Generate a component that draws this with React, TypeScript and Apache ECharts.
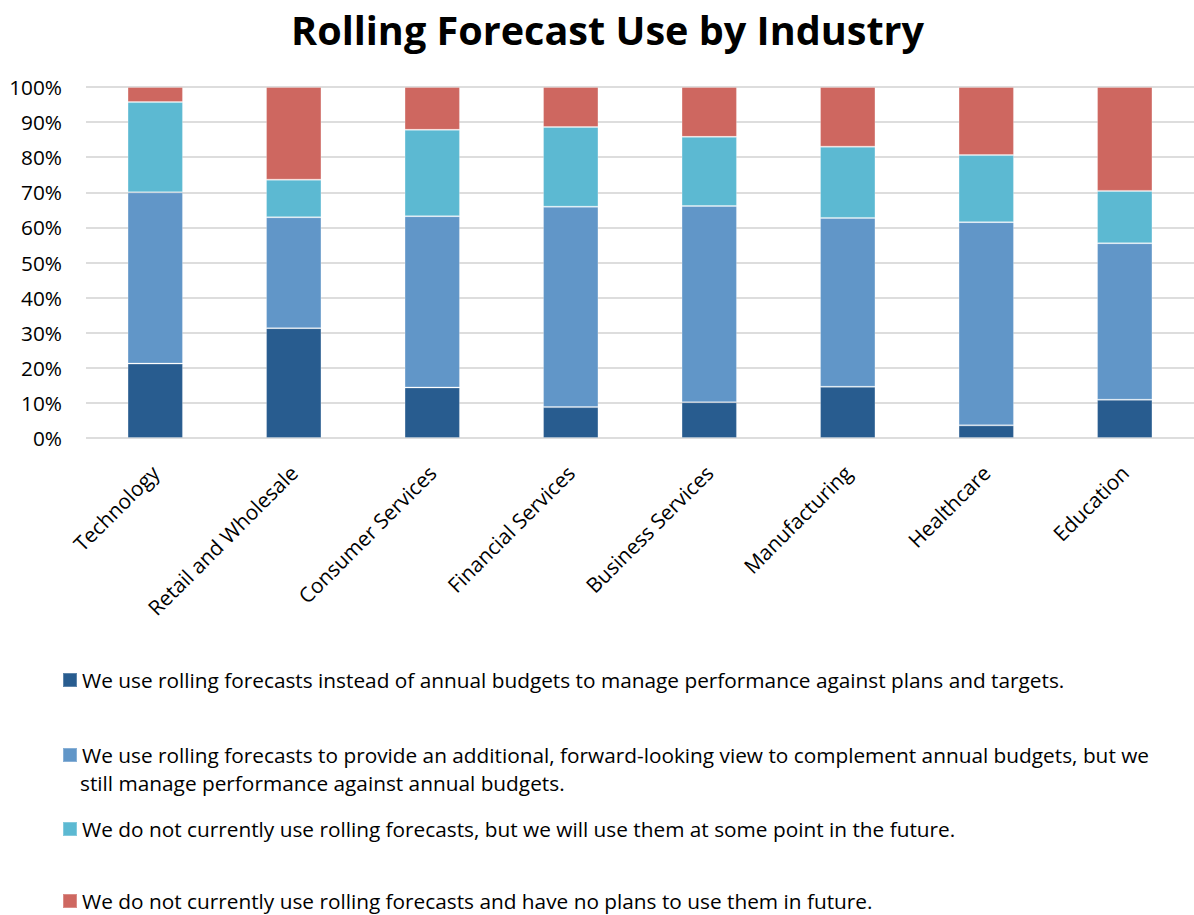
import React, { useEffect, useRef } from "react";
import * as echarts from "echarts";

const categories = [
  "Technology",
  "Retail and Wholesale",
  "Consumer Services",
  "Financial Services",
  "Business Services",
  "Manufacturing",
  "Healthcare",
  "Education",
];

const seriesNames = [
  "We use rolling forecasts instead of annual budgets to manage performance against plans and targets.",
  "We use rolling forecasts to provide an additional, forward-looking view to complement annual budgets, but we still manage performance against annual budgets.",
  "We do not currently use rolling forecasts, but we will use them at some point in the future.",
  "We do not currently use rolling forecasts and have no plans to use them in future.",
];

const legendFirstLines = [
  "We use rolling forecasts instead of annual budgets to manage performance against plans and targets.",
  "We use rolling forecasts to provide an additional, forward-looking view to complement annual budgets, but we",
  "We do not currently use rolling forecasts, but we will use them at some point in the future.",
  "We do not currently use rolling forecasts and have no plans to use them in future.",
];
const legendContinuation = "still manage performance against annual budgets.";

const replaceBudgets = [21.2, 31.3, 14.4, 8.8, 10.2, 14.6, 3.6, 10.9];
const complementBudgets = [48.8, 31.6, 48.8, 57.1, 55.9, 48.1, 57.9, 44.6];
const futureUse = [25.7, 10.7, 24.6, 22.7, 19.7, 20.3, 19.1, 14.9];
const noPlans = [4.3, 26.4, 12.2, 11.4, 14.2, 17.0, 19.4, 29.6];

const yTicks = [0, 10, 20, 30, 40, 50, 60, 70, 80, 90, 100];

const colors = ["#285C8F", "#6196C8", "#5CB9D2", "#CE6760"];
const FONT = "Open Sans";

export default function App() {
  const ref = useRef<HTMLDivElement>(null);

  useEffect(() => {
    document.body.style.margin = "0";
    const chart = echarts.init(ref.current!, null, { renderer: "svg" });
    const values = [replaceBudgets, complementBudgets, futureUse, noPlans];
    const legendCenters = [680, 755, 829, 901];

    const option: any = {
      animation: false,
      backgroundColor: "#ffffff",
      color: colors,
      title: {
        text: "Rolling Forecast Use by Industry",
        left: 286,
        top: 5,
        textStyle: {
          fontFamily: FONT,
          fontSize: 39.6,
          fontWeight: "bold",
          color: "#000000",
        },
      },
      grid: {
        left: 86,
        right: 0,
        top: 87,
        height: 351,
        containLabel: false,
      },
      xAxis: {
        type: "category",
        data: categories,
        axisLine: { show: false },
        axisTick: { show: false },
        axisLabel: {
          rotate: 45,
          margin: 31,
          fontFamily: FONT,
          fontSize: 20.8,
          color: "#000000",
          interval: 0,
        },
      },
      yAxis: {
        type: "value",
        min: yTicks[0],
        max: yTicks[yTicks.length - 1],
        interval: 10,
        axisLine: { show: false },
        axisTick: { show: false },
        splitLine: { lineStyle: { color: "#DDDDDD", width: 2 } },
        axisLabel: {
          formatter: "{value}%",
          margin: 24,
          fontFamily: FONT,
          fontSize: 20.8,
          color: "#000000",
        },
      },
      legend: seriesNames.map((name, i) => ({
        show: true,
        data: [name],
        orient: "vertical",
        left: 62,
        top: legendCenters[i] - 11,
        padding: 0,
        itemWidth: 14,
        itemHeight: 14,
        itemGap: 4,
        icon: "rect",
        selectedMode: false,
        formatter: () => legendFirstLines[i],
        textStyle: {
          fontFamily: FONT,
          fontSize: 20.8,
          color: "#000000",
          lineHeight: 22,
        },
      })),
      graphic: [
        {
          type: "text",
          left: 80,
          top: 772,
          style: {
            text: legendContinuation,
            fontFamily: FONT,
            fontSize: 20.8,
            lineHeight: 22,
            fill: "#000000",
          },
        },
      ],
      series: seriesNames.map((name, i) => ({
        name,
        type: "bar",
        stack: "total",
        barWidth: "40%",
        data: values[i],
        itemStyle: {
          color: colors[i],
          borderColor: "rgba(255,255,255,0.25)",
          borderWidth: 1,
        },
      })),
    };
    chart.setOption(option);
    return () => chart.dispose();
  }, []);

  return <div ref={ref} style={{ width: 1194, height: 915 }} />;
}
